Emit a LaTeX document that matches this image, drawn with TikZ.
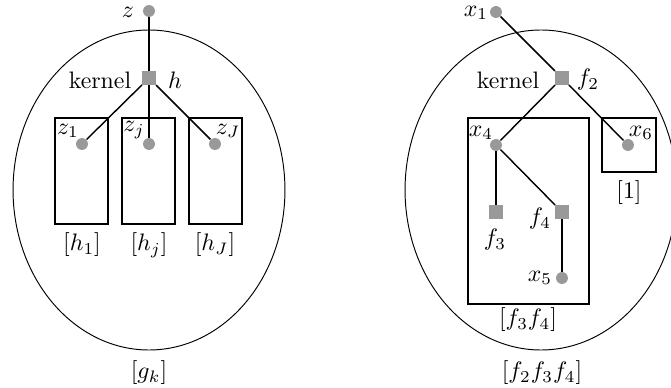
\documentclass[tikz,border=0pt]{standalone}
\usepackage{amsmath}
\usepackage{tikz}
\usetikzlibrary{positioning,shapes}

\begin{document}
\begin{tikzpicture}[
  x=0.42pt,y=-0.42pt,
  var/.style={circle,fill=black!40,inner sep=0pt,minimum size=5pt},
  fac/.style={rectangle,fill=black!40,inner sep=0pt,minimum size=5.5pt},
  plate/.style={rectangle,draw,semithick,inner sep=0pt,minimum width=#1},
  blob/.style={ellipse,draw,inner sep=0pt,minimum width=114.2pt,minimum height=134.4pt},
  link/.style={semithick},
  lab/.style={inner sep=0pt},
]
\useasboundingbox (0,0) rectangle (671,388);

% Outer blobs
\node[blob] (gk)  at (149,190) {};
\node[blob] (gR)  at (541,190) {};

% Plates
\node[plate=22.3pt,minimum height=44.5pt] (P1) at (81.5,171) {};
\node[plate=22.3pt,minimum height=44.5pt] (Pj) at (148.5,171) {};
\node[plate=22.3pt,minimum height=44.5pt] (PJ) at (215.5,171) {};
\node[plate=50.8pt,minimum height=78.1pt] (P34) at (528.5,211) {};
\node[plate=22.7pt,minimum height=22.7pt] (P6) at (629,145) {};

% Left graph
\node[var] (z)  at (149,11)  {};
\node[fac] (h)  at (149,78)  {};
\node[var] (z1) at (82,144)  {};
\node[var] (zj) at (149,144) {};
\node[var] (zJ) at (215,144) {};

\draw[link] (z) -- (h);
\draw[link] (h) -- (z1);
\draw[link] (h) -- (zj);
\draw[link] (h) -- (zJ);

% Right graph
\node[var] (x1) at (496,12)  {};
\node[fac] (f2) at (562,78)  {};
\node[var] (x4) at (496,145) {};
\node[var] (x6) at (628,145) {};
\node[fac] (f3) at (496,212) {};
\node[fac] (f4) at (562,212) {};
\node[var] (x5) at (562,278) {};

\draw[link] (x1) -- (f2);
\draw[link] (f2) -- (x4);
\draw[link] (f2) -- (x6);
\draw[link] (x4) -- (f3);
\draw[link] (x4) -- (f4);
\draw[link] (f4) -- (x5);

% Labels, left
\node[lab] (lz)  at (128,12)  {$z$};
\node[lab] (lk1) at (100,80)  {kernel};
\node[lab] (lh)  at (175,80)  {$h$};
\node[lab] (lz1) at (68,131)  {$z_1$};
\node[lab] (lzj) at (134,130) {$z_j$};
\node[lab] (lzJ) at (228,131) {$z_J$};
\node[lab] (lh1) at (82,245)  {$[h_1]$};
\node[lab] (lhj) at (149,245) {$[h_j]$};
\node[lab] (lhJ) at (215,245) {$[h_J]$};
\node[lab] (lgk) at (149,373) {$[g_k]$};

% Labels, right
\node[lab] (lx1) at (476,13)  {$x_1$};
\node[lab] (lk2) at (508,80)  {kernel};
\node[lab] (lf2) at (588,80)  {$f_2$};
\node[lab] (lx4) at (481,133) {$x_4$};
\node[lab] (lx6) at (641,133) {$x_6$};
\node[lab] (lf3) at (495,240) {$f_3$};
\node[lab] (lf4) at (540,219) {$f_4$};
\node[lab] (lx5) at (540,278) {$x_5$};
\node[lab] (l1)  at (629,193) {$[1]$};
\node[lab] (l34) at (528,320) {$[f_3f_4]$};
\node[lab] (l234) at (542,373) {$[f_2f_3f_4]$};

\end{tikzpicture}
\end{document}
